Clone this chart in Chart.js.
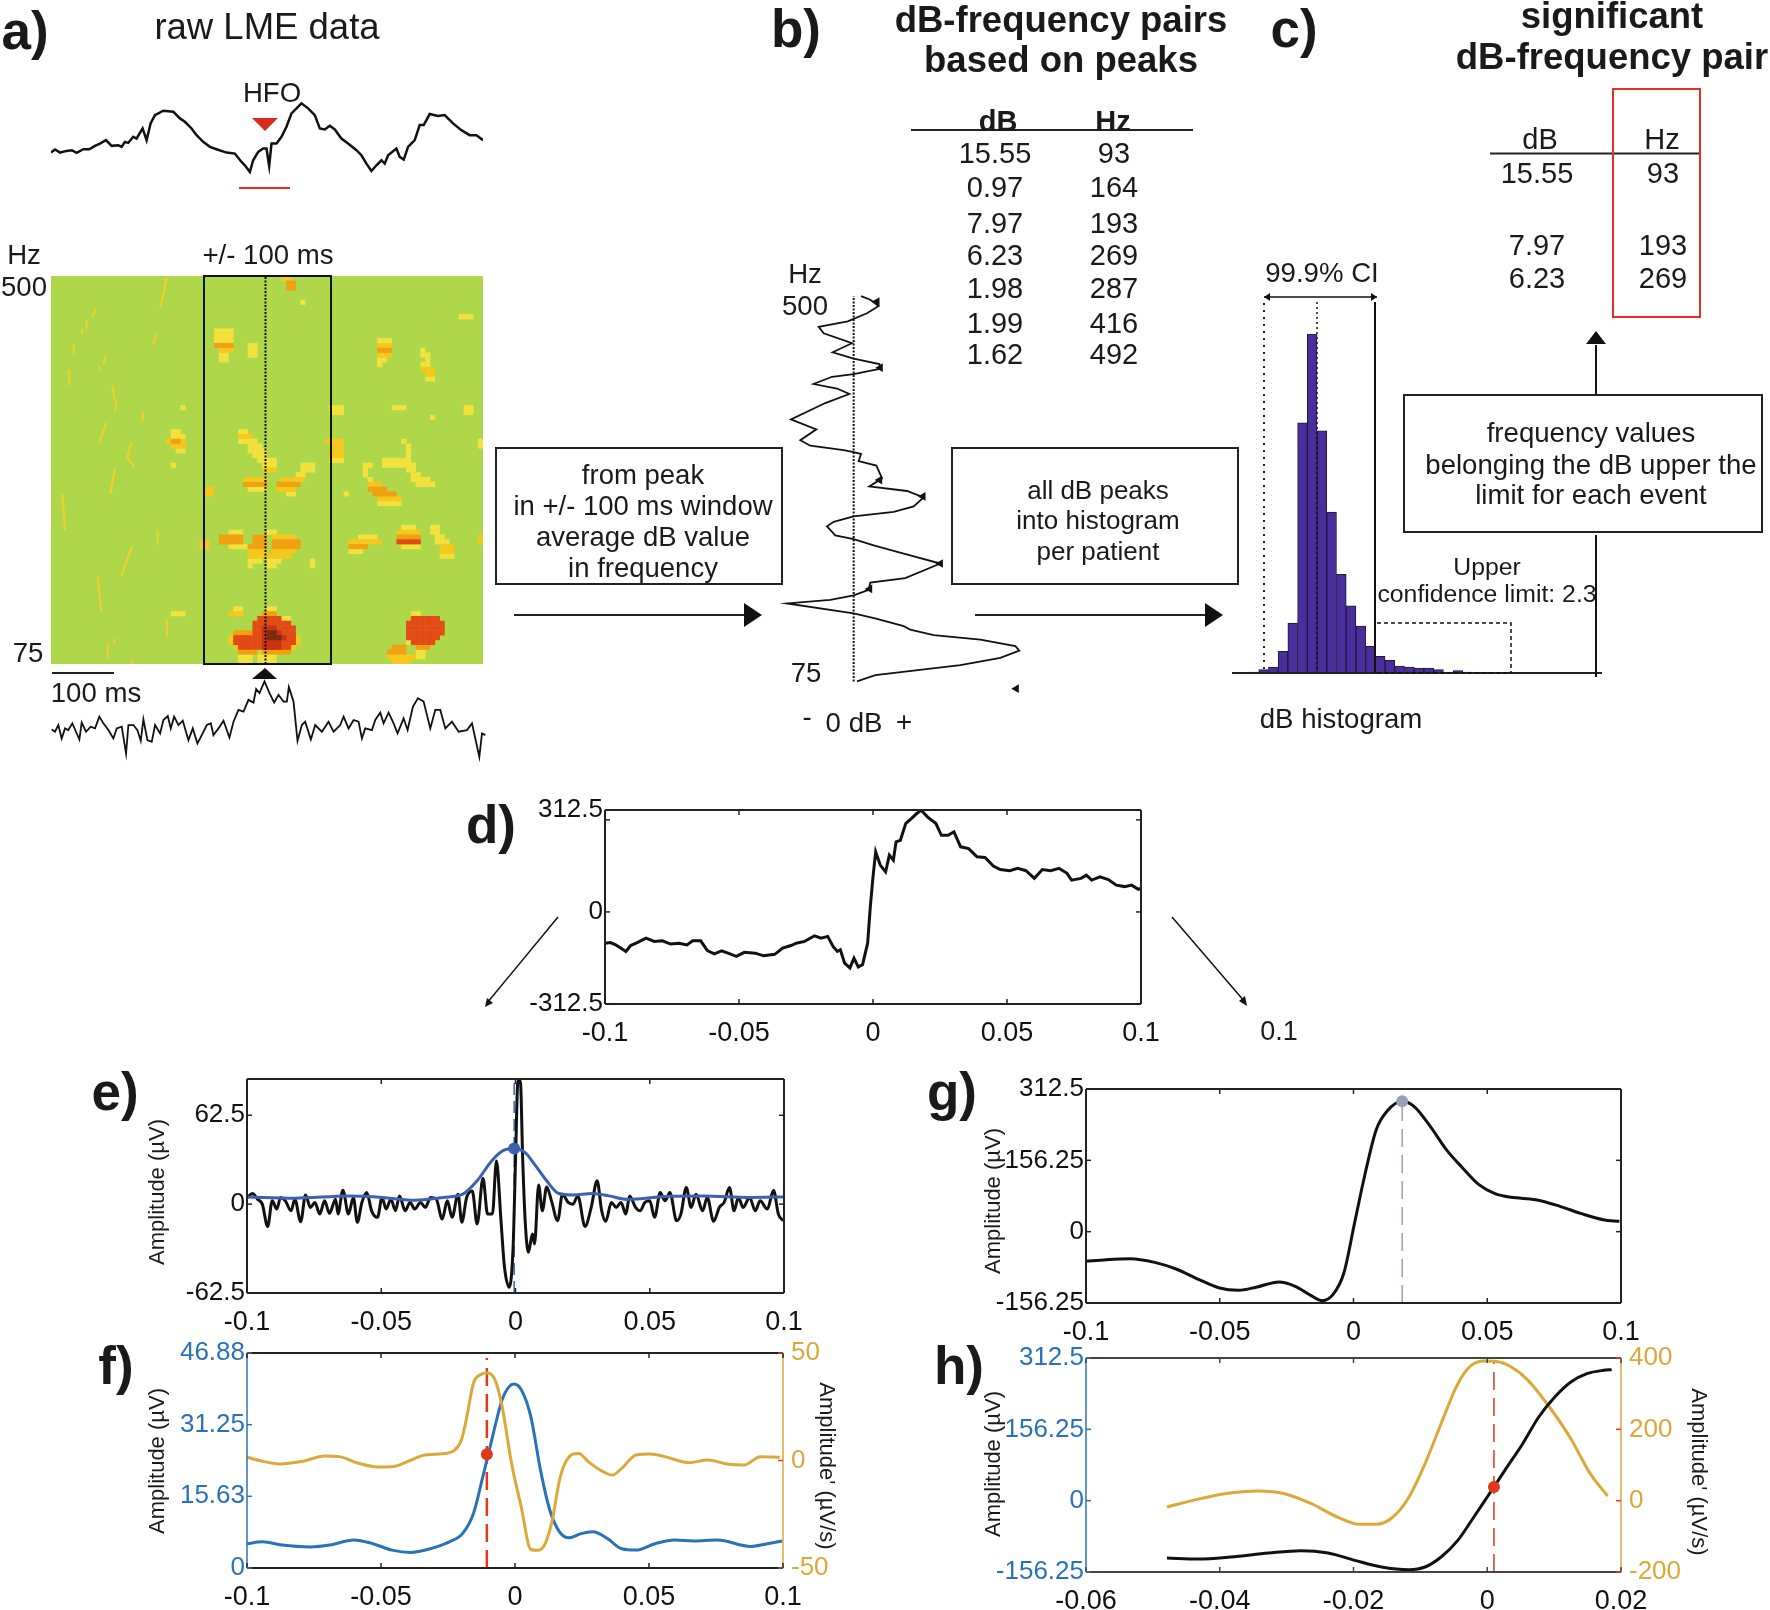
<!DOCTYPE html>
<html>
<head>
<meta charset="utf-8">
<title>HFO detection pipeline</title>
<script src="https://cdn.jsdelivr.net/npm/chart.js@4"></script>
<style>
  html, body { margin: 0; background: #fff; }
  #page { position: relative; width: 1770px; height: 1610px; overflow: hidden; font-family: "Liberation Sans", Arial, sans-serif; color: #1a1a1a; }
  #page canvas { position: absolute; }
  #page svg { position: absolute; left: 0; top: 0; }
  .t { position: absolute; white-space: nowrap; line-height: 1; transform: translate(-50%, -50%); }
</style>
</head>
<body>
<div id="page"></div>
<script>
// ===== Panel a: raw traces (sample number, amplitude) =====
const rawTopSamples = [153,165,180,200,215,230,250,268,285,300,318,335,355,365,375,385,400,410,428,440,452,465,490,520,540,555,575,590,610,630,650,680,705,725,735,750,760,775,790,800,808,815,830,845,860,875,890,905,925,945,960,975,990,1005,1025,1045,1070,1085,1100,1115,1130,1145,1155,1165,1190,1200,1212,1225,1245,1260,1272,1290,1315,1335,1360,1385,1410,1430,1450];
const rawTopAmp = [43,52,43,48,50,42,53,53,63,70,80,63,65,60,75,72,90,85,115,80,130,155,168,165,145,135,115,95,75,60,53,43,40,15,5,-15,20,45,55,55,3,70,70,90,120,160,175,190,175,155,115,112,123,112,85,70,50,35,10,-12,5,20,10,35,55,30,22,60,80,125,125,158,152,155,130,110,95,95,80];
const filteredSamples = [155,165,175,185,195,205,217,228,238,245,258,272,285,298,310,325,340,350,365,378,385,400,412,422,430,442,455,465,480,490,503,512,522,535,548,565,578,592,605,620,632,640,655,670,688,700,715,730,745,760,768,778,793,808,822,835,850,860,866,880,892,905,915,932,945,965,985,1000,1020,1030,1045,1060,1075,1085,1095,1115,1125,1140,1150,1165,1180,1192,1210,1222,1238,1253,1270,1290,1305,1320,1335,1355,1375,1400,1415,1437,1445,1455];
const filteredAmp = [112,105,125,85,115,110,130,105,82,132,105,120,115,150,130,110,85,115,120,40,125,125,110,78,142,80,75,125,100,140,152,115,150,125,138,80,115,70,95,125,130,95,115,138,88,135,170,165,200,192,232,220,255,220,192,215,195,195,238,195,78,125,135,82,125,105,135,105,125,150,115,140,135,85,115,110,140,162,130,162,130,100,145,110,180,205,195,115,170,170,115,135,105,110,130,30,100,95];

// spectrogram: [first time bin, last time bin, frequency bin, power level]
const powerColors = ['#f4e23c', '#f6c81e', '#f2a010', '#e24a16', '#c93312', '#7a2c10'];
const powerRuns = [
  [39,41,0,1],[43,44,0,1],[45,46,0,1],[39,41,1,1],[43,44,1,1],[45,46,1,1],[39,42,2,3],[44,49,2,3],
  [38,50,3,2],[39,49,3,4],[37,51,4,2],[38,50,4,4],[37,51,5,2],[38,50,5,4],[38,41,6,3],[42,50,6,4],
  [42,50,7,4],[42,49,8,4],[43,47,9,4],[48,49,9,1],[44,46,10,3],[45,46,11,1],[37,39,10,2],[38,39,11,1],
  [44,47,3,5],[44,47,4,5],[44,48,5,5],[44,47,6,5],[44,46,7,5],[45,47,5,6],[45,46,6,6],
  [75,76,10,1],[75,80,9,4],[74,81,8,4],[74,81,7,4],[74,81,6,4],[74,80,5,4],[75,79,4,4],[76,78,3,3],[76,77,2,1],
  [71,73,3,3],[70,73,2,3],[70,75,1,2],[71,74,0,2],[76,77,1,1],[74,74,4,1],
  [37,39,27,1],[35,39,26,3],[35,39,25,3],[37,41,24,1],[42,44,26,3],[42,44,25,3],[41,44,24,3],[41,44,23,2],[41,44,22,2],[41,43,21,1],[41,41,20,1],
  [45,46,27,1],[46,50,26,2],[46,51,25,3],[46,51,24,3],[46,50,23,2],[45,49,22,2],[45,47,21,1],[45,46,20,1],
  [54,54,21,1],[54,54,20,1],[31,32,25,2],[31,32,24,2],
  [73,75,28,1],[72,76,27,2],[72,76,26,3],[72,76,25,4],[73,76,24,1],
  [64,67,26,1],[62,68,25,2],[62,65,24,3],[62,64,23,1],
  [79,80,28,1],[79,80,27,1],[80,81,26,1],[80,82,25,1],[81,83,24,2],[81,83,23,2],[81,83,22,1],[89,89,25,2],[89,89,26,2],
  [39,40,48,1],[39,41,47,2],[39,42,46,1],[41,43,45,1],[41,44,44,1],[42,44,43,1],[43,46,42,1],[44,46,41,1],[44,46,40,2],
  [40,44,38,2],[40,44,37,3],[41,44,36,1],
  [52,54,41,1],[52,54,40,1],[51,52,39,1],[48,52,38,2],[47,51,37,3],[47,50,36,2],[49,50,35,1],[32,33,35,2],[32,33,36,2],
  [57,60,46,2],[58,60,45,2],[58,60,44,2],[58,60,43,2],[58,60,42,1],
  [65,66,41,1],[65,65,40,1],[65,65,39,1],[66,66,38,1],
  [66,68,37,2],[66,69,36,3],[67,71,35,3],[68,72,34,2],[68,72,33,1],
  [73,73,46,1],[74,74,45,1],[74,74,44,1],[74,74,43,1],[69,74,42,1],[69,75,41,1],[74,75,40,1],[75,76,39,1],[75,78,38,1],[76,79,37,1],
  [61,61,35,1],[58,60,53,1],[58,60,52,1],[71,73,53,1],[86,87,53,1],[86,87,52,1],[79,79,51,1],[89,89,46,1],[89,89,45,1],
  [27,27,53,1],[25,25,41,1],[25,27,10,1],[25,26,48,1],[25,27,47,1],[24,27,46,2],[25,27,45,2],[26,27,44,1],[25,26,46,3],
  [34,35,69,1],[36,37,69,1],[34,37,68,1],[34,37,67,1],[34,37,66,3],[35,37,65,2],[35,36,64,1],[35,36,63,1],
  [41,42,66,1],[41,42,65,1],[41,42,64,1],[48,49,80,2],[49,50,79,3],[49,50,78,3],[52,52,75,1],[85,87,72,1],
  [68,70,67,1],[68,70,66,2],[68,70,65,3],[68,70,64,2],[68,69,63,1],[68,68,62,1],
  [77,77,65,1],[77,78,64,1],[78,78,63,1],[77,78,62,1],[77,79,61,2],[78,79,60,2],[78,79,59,1]
];
// thin streaks in the spectrogram, null separates them
const streakBins = [9.2,8.7,null,7.4,7.4,null,6.5,6.5,null,4.7,4.7,null,11.5,10.9,null,10.1,10.1,null,3.8,3.8,null,12.8,13.3,null,21.9,21.3,null,24.1,23.4,22.7,null,13.7,13.3,null,19.1,19.1,null,11.6,10.1,null,16.8,15.9,17.4,null,13.3,12.4,null,2.4,2.9,null,22.2,22.2,null,16.9,14.7,null,9.7,10.5,null,24.1,24.2,null,11.8,11.8,null,13.2,13.2,null,16.8,16.8];
const streakFreq = [74.1,72.4,null,71.8,69.9,null,69.8,68.9,null,66.8,64.6,null,64.4,62.6,null,62.3,61.4,null,61.4,58.1,null,58.1,55,null,68.8,66.8,null,80.7,77.2,74.4,null,55,52.9,null,52.6,50.7,null,50.5,46.3,null,46.3,43.2,41.1,null,40.8,35.6,null,35.4,28,null,27.9,24.8,null,24.7,18.5,null,18.2,10.9,null,9.5,5.7,null,4.3,1.2,null,5.3,4.3,null,1,0.1];

// ===== Panel b: averaged dB per frequency =====
const spectrumDb = [0.69,1.56,2.34,1.25,-0.56,-3.28,-2.81,-0.16,-1.97,0,2.41,2.56,0,-2.03,-3.75,-1.56,-0.41,-2.66,-5.88,-3.5,-5,-4.06,-0.94,0,0.69,0.47,2.13,2.66,1.47,5,6.56,5.63,3.75,0,-1.88,-2.5,-1.72,0,1.88,4.69,8.13,4.84,1.56,1.41,0,-2.19,-6.25,0,2.19,4.69,5.31,7.5,11.88,15.16,15.53,13.75,10,2.03,0.31];
const spectrumHz = [500,496,489,481,472,466,459,448,438,431,425,420,414,411,403,398,392,382,364,353,341,335,330,328,326,318,313,299,290,285,278,268,262,257,251,246,236,232,225,216,205,189,184,176,170,165,161,150,144,136,132,126,121,114,109,101,93,82,75];
const spectrumPeakDb = [2.19,2.5,2.44,6.5,8.13,1.5,15.25];
const spectrumPeakHz = [494,421,297,279,205,177,67];
const pairDb = ['15.55','0.97','7.97','6.23','1.98','1.99','1.62'];
const pairHz = ['93','164','193','269','287','416','492'];

// ===== Panel c: histogram of dB peaks =====
const histogramCounts = [3,10,18,65,150,751,1018,727,483,296,202,141,80,50,38,21,18,15,15,10,3,7,3,2,2];
const significantDb = ['15.55','7.97','6.23'];
const significantHz = ['93','193','269'];

// ===== Panel d: averaged event =====
const eventMs = [-100,-98,-96,-94,-92.2,-90.4,-87.8,-84.7,-81.6,-78.6,-75.5,-72.4,-69.4,-67.3,-64.3,-61.8,-59.2,-56.5,-54.1,-51,-48,-43.9,-40.8,-36.7,-33.7,-30.6,-28.6,-25.5,-21.8,-19.4,-16.9,-14.9,-13.3,-12.2,-10.6,-8.6,-7.1,-5.5,-3.9,-2,-1,0,1,2.7,4.7,6.1,7.6,8.6,10.2,12.2,14.3,16.3,18,20.4,23.5,25.5,28,30.2,32.7,35.7,38.8,41.8,44.9,47.5,51,54,57.1,60.2,63.2,66.3,69.4,72.4,74.1,77.6,79.6,81.6,84.7,87.8,90.8,93.9,96.5,99,100];
const eventUv = [-106,-104,-112,-123,-134,-114,-103,-89,-100,-98,-109,-106,-112,-98,-98,-131,-142,-132,-140,-151,-137,-140,-149,-144,-123,-114,-106,-100,-81,-89,-83,-117,-134,-128,-174,-190,-157,-187,-179,-106,18,119,204,159,136,193,176,238,243,300,317,334,345,322,300,260,260,272,221,215,187,185,156,144,140,148,140,114,144,140,148,131,108,114,125,108,119,110,91,86,91,77,80];

// ===== Panel e: high-pass trace and envelope =====
const hfoMs = [-100,-97.9,-96.1,-94.3,-92.3,-90.6,-88.9,-87.5,-85.7,-83.6,-82.2,-80,-78.2,-76.4,-74.7,-72.9,-71.1,-69.3,-67,-66.1,-64.3,-62.2,-60.4,-58.9,-57.2,-55.4,-53.6,-51.4,-49.7,-48.2,-46.4,-44.7,-43.2,-41.1,-39.3,-37.5,-35.4,-33.6,-31.6,-29.5,-27.3,-25.4,-23.6,-21.4,-20,-18.2,-16.1,-14.3,-12.1,-10.4,-8.6,-7.1,-5.4,-4.1,-2.3,-0.9,0,0.9,1.8,2.7,3.6,4.8,6.3,7.1,8.6,10,11.6,13.4,15.7,17.5,19.6,21.4,23.2,25.9,28.2,30.4,32.1,33.6,35.7,37.5,39.3,41.1,42.5,44.7,46.4,48.2,50,51.8,53.9,55.7,57.5,60,61.6,63.6,65.4,67.2,69.7,71.4,73.8,75.9,77.7,79.7,81.4,83,84.8,87.2,89.3,91.1,93.8,96.1,97.9,99.7];
const hfoUv = [4.7,7.5,3.5,0,-15.7,2.3,-3.5,4.7,2.3,-4.7,3.5,-12.4,6.5,-2.3,1.2,-7,2.3,-6.5,3.5,-7,9.8,-7,4.7,-12.8,1.2,8.2,-4.7,-9.3,4.7,-3.5,3.5,-4.7,5.8,-4.7,1.2,-3.5,1.2,-2.3,4.7,3.5,-10.5,2.3,-9.3,7,-12.8,4.7,9.3,-14,18.2,-7,-7,30.4,-11.7,-44.4,-58.4,-30.4,30.4,86.4,86.4,30.4,-11.7,-33.9,-21,-28,13.5,-4.7,12.1,2.3,-11.7,7,1.2,0,5.8,-15.7,-2.3,16.4,-4.7,-12.1,1.2,-2.3,1.2,-7,5.8,-2.3,-4.7,1.2,2.3,-9.3,8.2,2.3,8.2,-11.7,-7,11.7,-2.3,7,-4.7,4.7,-12.1,-2.3,1.2,11.7,-4.7,4.7,-2.3,4.7,-4.7,2.3,-3.5,9.8,-7,-11.7];
const envelopeMs = [-100,-82.2,-62.5,-51.8,-37.5,-26.8,-19.6,-14.3,-8.9,-4.5,-0.5,3.6,7.1,11.6,16.1,21.4,28.6,34.8,42,57.2,69.7,87.5,100];
const envelopeUv = [5.1,4.2,5.8,5.1,2.8,4.7,7,16.4,30.4,37.8,39.2,36.2,28,16.4,7.5,6.5,7.5,5.8,3.3,5.6,5.8,4.7,5.1];
const envelopePeakMs = -0.5;
const envelopePeakUv = 39.2;

// ===== Panel f: envelope and its derivative =====
const fEnvelopeMs = [-100,-94.1,-87,-76.3,-69.1,-60.2,-53,-45.9,-38.8,-31.6,-24.5,-19.6,-15.5,-12,-8.4,-4.8,-2.1,-0.4,2.3,5.9,9.5,13,16.6,20.2,24.6,29.1,34.5,39.8,45.2,52.3,59.5,66.6,75.5,88,93.4,99.7];
const fEnvelopeUv = [5.3,5.7,5,4.6,5,6.1,5.3,3.9,3.4,4.2,5.7,7.5,11.9,19.9,28.6,36.7,39.6,40.1,38.9,33,21.4,12.6,7.9,6.6,7.5,7.9,6.4,4.2,3.9,5.3,6.1,5.9,6.1,4.7,5.2,5.9];
const fSlopeMs = [-100,-95,-87.9,-79.8,-70.9,-65.5,-58.4,-51.3,-45.9,-38.8,-34.3,-29.8,-23.6,-20,-18.2,-15.5,-12.9,-10.2,-7.5,-4.8,-1.3,2.3,5.9,8.6,11.3,13.9,16.6,19.3,23.8,27.3,31.8,36.3,39.8,45.2,50.5,55.9,64.8,72,79.1,85.4,91.6,98.8];
const fSlopeUvs = [1.5,-0.1,-1.6,-0.5,2.1,1.8,-1.3,-3,-2.9,0.2,2.4,2.9,4,9.6,18.9,36,39.9,40.7,37.6,25.1,-1.3,-21.5,-41.4,-41.8,-38.6,-27.8,-9.1,0.2,3.3,-0.5,-4.4,-6.8,-3.7,2.6,3,1.8,-1,0.2,-1.6,-2.1,1.8,1.5];
const fOnsetMs = -10.5;
const fOnsetSlope = 2.9;
const fOnsetTop = 47.7;

// ===== Panel g: low-pass trace =====
const lowMs = [-100,-92.5,-83.4,-74.3,-66.3,-58.2,-50.1,-43,-36,-27.9,-21.8,-15.8,-11.7,-7.7,-3.6,0.4,4.4,8.5,12.5,18.2,22.6,28.7,34.7,40.8,46.9,52.9,59,68.1,77.2,85.2,93.3,99.4];
const lowUv = [-65,-61.3,-59.1,-67.2,-81.8,-103.7,-123.4,-128.5,-121.2,-110.2,-119.7,-140.2,-151.1,-138,-90.5,19,128.5,223.4,263.6,285.5,274.5,230.7,179.6,139.4,102.9,83.2,75.2,70.1,55.5,39.4,26.3,22.6];
const lowPeakMs = 18.2;
const lowPeakUv = 285.5;

// ===== Panel h: rise of the low-pass trace and its derivative =====
const riseMs = [-47.9,-43.2,-38.4,-32.7,-27.9,-23.8,-19.8,-15.8,-11.7,-9.3,-6.9,-4.4,-2,0,1,2.8,5.3,7.7,10.1,12.5,14.9,17.4,18.6];
const riseUv = [-125.6,-127.8,-123.4,-114.6,-109.5,-114.6,-130.7,-145.3,-151.1,-145.3,-123.4,-86.9,-35.8,8,29.9,70.1,124.8,183.3,227.1,259.9,278.2,285.5,286.9];
const riseSlopeMs = [-47.9,-44,-39.2,-34.3,-30.3,-26.3,-22.2,-19,-16.6,-14.1,-11.7,-9.3,-6.9,-4.4,-2.4,-0.4,1.2,3.6,6.1,9.3,12.5,15.4,18];
const riseSlope = [-17.8,0.9,19.6,27.1,19.6,-8.4,-47.7,-66.4,-66.4,-45.8,10.3,103.7,215.9,328,379.4,391.6,390.7,374.8,337.4,262.6,173.8,75.7,13.1];
const riseOnsetMs = 1;
const riseOnsetUv = 29.9;
const riseOnsetTop = 389;

// ===== Tick values =====
const msTicks = [-100, -50, 0, 50, 100];
const riseTicks = [-60, -40, -20, 0, 20];
const dYTicks = [-312.5, 0, 312.5, 346];
const eYTicks = [-62.5, 0, 62.5];
const fYTicks = [0, 15.63, 31.25, 46.88];
const fY2Ticks = [-50, 0, 50];
const gYTicks = [-156.25, 0, 156.25, 312.5];
const hY2Ticks = [-200, 0, 200, 400];

// ===== Colours =====
const INK = '#111';
const BLUE = '#2a72b8';
const ENV_BLUE = '#3a62b0';
const GOLD = '#dba83a';
const RED = '#e0391a';
const FONT = '"Liberation Sans", Arial, sans-serif';

const page = document.getElementById('page');
const zip = (xs, ys) => xs.map((x, i) => ({ x: x, y: ys[i] }));

// spines and inward ticks, drawn the way the original axes look
const framePlugin = {
  id: 'frame',
  afterDatasetsDraw(chart, args, o) {
    if (!o.on) return;
    const a = chart.chartArea, c = chart.ctx;
    const seg = (x1, y1, x2, y2, col, w) => {
      c.strokeStyle = col; c.lineWidth = w; c.beginPath(); c.moveTo(x1, y1); c.lineTo(x2, y2); c.stroke();
    };
    c.save();
    seg(a.left, a.top, a.right, a.top, o.top, o.width);
    seg(a.left, a.bottom, a.right, a.bottom, o.bottom, o.width);
    seg(a.left, a.top, a.left, a.bottom, o.left, o.sideWidth);
    seg(a.right, a.top, a.right, a.bottom, o.right, o.sideWidth);
    chart.scales.x.ticks.forEach(t => {
      const x = chart.scales.x.getPixelForValue(t.value);
      seg(x, a.bottom, x, a.bottom - 5, o.bottom, 1.5);
      seg(x, a.top, x, a.top + 5, o.top, 1.5);
    });
    chart.scales.y.ticks.forEach(t => {
      const y = chart.scales.y.getPixelForValue(t.value);
      seg(a.left, y, a.left + 5, y, o.left, 1.5);
      if (!chart.scales.y2) seg(a.right, y, a.right - 5, y, o.right, 1.5);
    });
    if (chart.scales.y2) {
      chart.scales.y2.ticks.forEach(t => {
        const y = chart.scales.y2.getPixelForValue(t.value);
        seg(a.right, y, a.right - 5, y, RED, 1.5);
      });
    }
    c.restore();
  }
};
Chart.register(framePlugin);

// datasets are listed back to front here, Chart.js paints index 0 last
function addChart(box, config, margin) {
  const m = Object.assign({ l: 0, r: 0, t: 0, b: 0 }, margin);
  const canvas = document.createElement('canvas');
  canvas.width = box.w + m.l + m.r;
  canvas.height = box.h + m.t + m.b;
  canvas.style.left = (box.x - m.l) + 'px';
  canvas.style.top = (box.y - m.t) + 'px';
  if (box.bg) canvas.style.background = box.bg;
  page.appendChild(canvas);
  config.data.datasets.reverse();
  config.options = Object.assign({ responsive: false, animation: false, events: [] }, config.options);
  config.options.plugins = Object.assign({ legend: { display: false }, tooltip: { enabled: false } }, config.options.plugins);
  return new Chart(canvas, config);
}

// schematic chart with no axes, the canvas is the plot area
function bareOptions(xMin, xMax, yMin, yMax) {
  return {
    layout: { padding: 0, autoPadding: false },
    scales: {
      x: { type: 'linear', display: false, min: xMin, max: xMax },
      y: { type: 'linear', display: false, min: yMin, max: yMax }
    }
  };
}

const MARGIN = { l: 110, r: 70, t: 12, b: 50 };

function yAxis(min, max, ticks, color, position, labelFn) {
  return {
    type: 'linear', position: position, min: min, max: max,
    grid: { display: false, drawTicks: false }, border: { display: false },
    afterBuildTicks: s => { s.ticks = ticks.map(v => ({ value: v })); },
    afterFit: s => { s.width = position === 'left' ? MARGIN.l : MARGIN.r; s.paddingTop = 0; s.paddingBottom = 0; },
    ticks: {
      autoSkip: false, padding: position === 'left' ? 2 : 8, color: color,
      font: { family: FONT, size: 26 },
      callback: labelFn || (v => String(v))
    }
  };
}

function plotOptions(x, y, y2, frame) {
  const scales = {
    x: {
      type: 'linear', min: x.min, max: x.max,
      grid: { display: false, drawTicks: false }, border: { display: false },
      afterBuildTicks: s => { s.ticks = x.ticks.map(v => ({ value: v })); },
      afterFit: s => { s.height = MARGIN.b; s.paddingLeft = 0; s.paddingRight = 0; },
      ticks: { autoSkip: false, maxRotation: 0, padding: 13, color: INK, font: { family: FONT, size: 27 }, callback: v => String(v / 1000) }
    },
    y: y
  };
  if (y2) scales.y2 = y2;
  return {
    layout: { padding: { top: MARGIN.t, right: y2 ? 0 : MARGIN.r, left: 0, bottom: 0 }, autoPadding: false },
    scales: scales,
    plugins: { frame: Object.assign({ on: true, top: '#222', bottom: '#222', left: '#222', right: '#222', width: 2, sideWidth: 2 }, frame) }
  };
}

const line = (data, color, width, extra) => Object.assign({
  type: 'line', data: data, borderColor: color, borderWidth: width, pointRadius: 0, fill: false,
  cubicInterpolationMode: 'monotone', spanGaps: false
}, extra);
const dashed = (x, y0, y1, color, width, dash, extra) => Object.assign({
  type: 'line', data: [{ x: x, y: y0 }, { x: x, y: y1 }], borderColor: color, borderWidth: width,
  borderDash: dash, pointRadius: 0, fill: false
}, extra);
const dot = (x, y, color, extra) => Object.assign({
  type: 'scatter', data: [{ x: x, y: y }], pointRadius: 6, pointBackgroundColor: color, pointBorderWidth: 0
}, extra);

// ===== a) traces and spectrogram =====
addChart({ x: 51, y: 100, w: 432, h: 77 }, {
  type: 'line',
  data: { datasets: [line(zip(rawTopSamples, rawTopAmp), INK, 2.5, { cubicInterpolationMode: 'default' })] },
  options: bareOptions(153, 1450, -30, 200)
});

const heatDatasets = powerColors.map((color, level) => ({
  type: 'scatter',
  data: powerRuns.filter(r => r[3] === level + 1).flatMap(r => {
    const cells = [];
    for (let c = r[0]; c <= r[1]; c++) cells.push({ x: c + 0.5, y: r[2] + 0.5 });
    return cells;
  }),
  pointStyle: 'rect', pointRadius: 3.6, pointBackgroundColor: color, pointBorderWidth: 0
}));
heatDatasets.unshift({
  type: 'line', data: streakBins.map((b, i) => ({ x: b, y: streakFreq[i] })),
  borderColor: '#f3d02a', borderWidth: 2, pointRadius: 0, spanGaps: false
});
addChart({ x: 51, y: 276, w: 432, h: 388, bg: '#aed84a' }, {
  type: 'scatter', data: { datasets: heatDatasets }, options: bareOptions(0, 90, 0, 81)
});

addChart({ x: 51, y: 673, w: 436, h: 94 }, {
  type: 'line',
  data: { datasets: [line(zip(filteredSamples, filteredAmp), INK, 1.8, { cubicInterpolationMode: 'default' })] },
  options: bareOptions(153, 1460, 0, 280)
});

// ===== b) dB per frequency =====
addChart({ x: 779, y: 287, w: 256, h: 408 }, {
  type: 'line',
  data: {
    datasets: [
      dashed(0, 75, 500, INK, 2, [2, 1.5]),
      line(zip(spectrumDb, spectrumHz), INK, 1.8, { cubicInterpolationMode: 'default' }),
      {
        type: 'scatter', data: zip(spectrumPeakDb, spectrumPeakHz), pointStyle: 'triangle', pointRotation: -90,
        pointRadius: 5, pointBackgroundColor: INK, pointBorderWidth: 0
      }
    ]
  },
  options: bareOptions(-7, 17, 60, 510)
});

// ===== c) histogram =====
addChart({ x: 1249, y: 334, w: 243, h: 339 }, {
  type: 'bar',
  data: {
    labels: histogramCounts.map((_, i) => i + 1),
    datasets: [{
      data: histogramCounts, backgroundColor: '#4a2e9c', borderColor: '#1d1840', borderWidth: 1,
      barPercentage: 1, categoryPercentage: 1
    }]
  },
  options: {
    layout: { padding: 0, autoPadding: false },
    scales: { x: { display: false }, y: { display: false, min: 0, max: 1018 } }
  }
});

// ===== d) averaged event =====
addChart({ x: 605, y: 810, w: 536, h: 194 }, {
  type: 'line',
  data: { datasets: [line(zip(eventMs, eventUv), INK, 3, { cubicInterpolationMode: 'default' })] },
  options: plotOptions(
    { min: -100, max: 100, ticks: msTicks },
    yAxis(-312.5, 346, dYTicks, INK, 'left', v => v === 346 ? '312.5' : v === 312.5 ? '' : String(v)), null, {})
}, MARGIN);

// ===== e) =====
addChart({ x: 247, y: 1079, w: 537, h: 214 }, {
  type: 'line',
  data: {
    datasets: [
      dashed(envelopePeakMs, -62.5, 88, ENV_BLUE, 1.5, [12, 6]),
      line(zip(hfoMs, hfoUv), INK, 3),
      line(zip(envelopeMs, envelopeUv), ENV_BLUE, 3),
      dot(envelopePeakMs, envelopePeakUv, ENV_BLUE)
    ]
  },
  options: plotOptions({ min: -100, max: 100, ticks: msTicks }, yAxis(-62.5, 88, eYTicks, INK, 'left'), null, {})
}, MARGIN);

// ===== f) =====
addChart({ x: 247, y: 1353, w: 536, h: 215 }, {
  type: 'line',
  data: {
    datasets: [
      dashed(fOnsetMs, -50, fOnsetTop, RED, 2.5, [18, 8], { yAxisID: 'y2' }),
      line(zip(fEnvelopeMs, fEnvelopeUv), BLUE, 3, { yAxisID: 'y' }),
      line(zip(fSlopeMs, fSlopeUvs), GOLD, 3, { yAxisID: 'y2' }),
      dot(fOnsetMs, fOnsetSlope, RED, { yAxisID: 'y2' })
    ]
  },
  options: plotOptions(
    { min: -100, max: 100, ticks: msTicks },
    yAxis(0, 46.88, fYTicks, BLUE, 'left'),
    yAxis(-50, 50, fY2Ticks, GOLD, 'right'),
    { left: BLUE, right: GOLD, sideWidth: 1.5 })
}, MARGIN);

// ===== g) =====
addChart({ x: 1086, y: 1089, w: 535, h: 214 }, {
  type: 'line',
  data: {
    datasets: [
      dashed(lowPeakMs, -156.25, 300, '#9aa0b4', 1.5, [18, 8]),
      line(zip(lowMs, lowUv), INK, 3),
      dot(lowPeakMs, lowPeakUv, '#9aa0b4')
    ]
  },
  options: plotOptions({ min: -100, max: 100, ticks: msTicks }, yAxis(-156.25, 312.5, gYTicks, INK, 'left'), null, {})
}, MARGIN);

// ===== h) =====
addChart({ x: 1086, y: 1358, w: 535, h: 214 }, {
  type: 'line',
  data: {
    datasets: [
      dashed(riseOnsetMs, -200, riseOnsetTop, RED, 1.5, [18, 8], { yAxisID: 'y2' }),
      line(zip(riseSlopeMs, riseSlope), GOLD, 3, { yAxisID: 'y2' }),
      line(zip(riseMs, riseUv), INK, 3, { yAxisID: 'y' }),
      dot(riseOnsetMs, riseOnsetUv, RED, { yAxisID: 'y' })
    ]
  },
  options: plotOptions(
    { min: -60, max: 20, ticks: riseTicks },
    yAxis(-156.25, 312.5, gYTicks, BLUE, 'left'),
    yAxis(-200, 400, hY2Ticks, GOLD, 'right'),
    { left: BLUE, right: GOLD, sideWidth: 1.5, top: '#444', bottom: '#444' })
}, MARGIN);

// ===== Diagram furniture: boxes, arrows, brackets =====
const svgNS = 'http://www.w3.org/2000/svg';
const svg = document.createElementNS(svgNS, 'svg');
svg.setAttribute('width', 1770);
svg.setAttribute('height', 1610);
svg.innerHTML = `
  <polygon points="252,118 278,118 265,131" fill="#d92b1c"/>
  <line x1="239" y1="188" x2="290" y2="188" stroke="#e0331f" stroke-width="2"/>
  <rect x="204" y="276" width="127" height="388" fill="none" stroke="#111" stroke-width="2"/>
  <line x1="265.5" y1="277" x2="265.5" y2="663" stroke="#111" stroke-width="2" stroke-dasharray="2 1.5"/>
  <polygon points="252,679 277,679 265,668" fill="#111"/>
  <line x1="52" y1="673" x2="114" y2="673" stroke="#222" stroke-width="2"/>

  <rect x="496" y="448" width="286" height="136" fill="none" stroke="#222" stroke-width="2"/>
  <line x1="514" y1="615" x2="746" y2="615" stroke="#222" stroke-width="2"/>
  <polygon points="744,603 744,627 762,615" fill="#111"/>
  <rect x="952" y="448" width="286" height="136" fill="none" stroke="#222" stroke-width="2"/>
  <line x1="975" y1="615" x2="1207" y2="615" stroke="#222" stroke-width="2"/>
  <polygon points="1205,603 1205,627 1223,615" fill="#111"/>

  <line x1="911" y1="130" x2="1193" y2="130" stroke="#222" stroke-width="2"/>
  <line x1="1490" y1="153.5" x2="1699" y2="153.5" stroke="#222" stroke-width="2"/>
  <rect x="1613" y="89" width="87" height="228" fill="none" stroke="#e0331f" stroke-width="2"/>

  <line x1="1232" y1="673" x2="1602" y2="673" stroke="#222" stroke-width="2"/>
  <line x1="1264" y1="303" x2="1264" y2="672" stroke="#222" stroke-width="2" stroke-dasharray="2 5"/>
  <line x1="1317" y1="302" x2="1317" y2="672" stroke="#111" stroke-width="1.5" stroke-dasharray="2 3"/>
  <line x1="1375" y1="302" x2="1375" y2="673" stroke="#111" stroke-width="2"/>
  <line x1="1264" y1="297" x2="1377" y2="297" stroke="#111" stroke-width="1.5"/>
  <polygon points="1264,297 1270,293 1270,301" fill="#111"/>
  <polygon points="1377,297 1371,293 1371,301" fill="#111"/>
  <path d="M1377 623 H1511 V673 M1377 673 H1511" fill="none" stroke="#111" stroke-width="1.5" stroke-dasharray="4 3"/>

  <line x1="1596" y1="345" x2="1596" y2="395" stroke="#111" stroke-width="2"/>
  <polygon points="1586,344 1606,344 1596,331" fill="#111"/>
  <rect x="1404" y="395" width="358" height="137" fill="none" stroke="#222" stroke-width="2"/>
  <line x1="1596" y1="535" x2="1596" y2="677" stroke="#111" stroke-width="2"/>

  <line x1="558" y1="917" x2="487" y2="1003" stroke="#111" stroke-width="1.5"/>
  <polygon points="485,1007 487,998 493,1003" fill="#111"/>
  <line x1="1172" y1="917" x2="1245" y2="1002" stroke="#111" stroke-width="1.5"/>
  <polygon points="1247,1006 1239,1001 1245,996" fill="#111"/>
`;
page.appendChild(svg);

// ===== Text =====
function addText(text, x, y, size, extra) {
  const d = document.createElement('div');
  d.className = 't';
  d.textContent = text;
  d.style.left = x + 'px';
  d.style.top = y + 'px';
  d.style.fontSize = size + 'px';
  if (extra) {
    if (extra.bold) d.style.fontWeight = 'bold';
    if (extra.rotate) d.style.transform = 'translate(-50%, -50%) rotate(' + extra.rotate + 'deg)';
    if (extra.color) d.style.color = extra.color;
  }
  page.appendChild(d);
}

[['a)', 25, 30], ['b)', 796, 28], ['c)', 1294, 28], ['d)', 491, 824], ['e)', 115, 1091], ['f)', 116, 1365], ['g)', 952, 1091], ['h)', 959, 1365]]
  .forEach(p => addText(p[0], p[1], p[2], 53, { bold: true }));

addText('raw LME data', 267, 27, 36.5);
addText('HFO', 272, 93, 27.6);
addText('Hz', 24, 255, 27.6);
addText('+/- 100 ms', 268, 255, 27.6);
addText('500', 24, 287, 27.6);
addText('75', 28, 653, 27.6);
addText('100 ms', 96, 693, 27.6);

addText('dB-frequency pairs', 1061, 20, 36.5, { bold: true });
addText('based on peaks', 1061, 60, 36.5, { bold: true });
addText('dB', 998, 121, 29, { bold: true });
addText('Hz', 1113, 121, 29, { bold: true });
const pairRowY = [153, 187, 223, 255, 288, 323, 354];
pairDb.forEach((v, i) => {
  addText(v, 995, pairRowY[i], 29);
  addText(pairHz[i], 1114, pairRowY[i], 29);
});
addText('Hz', 805, 274, 27.6);
addText('500', 805, 306, 27.6);
addText('75', 806, 673, 27.6);
addText('-', 807, 717, 27.6);
addText('0 dB', 854, 723, 27.6);
addText('+', 904, 722, 27.6);

addText('from peak', 643, 475, 27.5);
addText('in +/- 100 ms window', 643, 506, 27.5);
addText('average dB value', 643, 537, 27.5);
addText('in frequency', 643, 568, 27.5);
addText('all dB peaks', 1098, 490, 26);
addText('into histogram', 1098, 520, 26);
addText('per patient', 1098, 551, 26);

addText('significant', 1612, 16, 36.5, { bold: true });
addText('dB-frequency pair', 1612, 57, 36.5, { bold: true });
addText('dB', 1540, 139, 29);
addText('Hz', 1662, 139, 29);
const significantRowY = [173, 245, 278];
significantDb.forEach((v, i) => {
  addText(v, 1537, significantRowY[i], 29);
  addText(significantHz[i], 1663, significantRowY[i], 29);
});
addText('99.9% CI', 1322, 273, 27.6);
addText('frequency values', 1591, 433, 27.6);
addText('belonging the dB upper the', 1591, 465, 27.6);
addText('limit for each event', 1591, 495, 27.6);
addText('Upper', 1487, 567, 24.8);
addText('confidence limit: 2.3', 1487, 594, 24.8);
addText('dB histogram', 1341, 719, 27.6);
addText('0.1', 1279, 1031, 27);

addText('Amplitude (µV)', 157, 1192, 22, { rotate: -90 });
addText('Amplitude (µV)', 157, 1461, 22, { rotate: -90 });
addText("Amplitude' (µV/s)", 827, 1466, 22, { rotate: 90 });
addText('Amplitude (µV)', 993, 1201, 22, { rotate: -90 });
addText('Amplitude (µV)', 993, 1464, 22, { rotate: -90 });
addText("Amplitude' (µV/s)", 1699, 1472, 22, { rotate: 90 });
</script>
</body>
</html>
